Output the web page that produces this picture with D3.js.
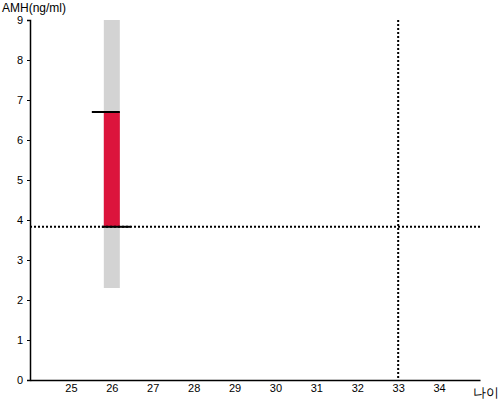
<!DOCTYPE html>
<html>
<head>
<meta charset="utf-8">
<script src="https://cdn.jsdelivr.net/npm/d3@7"></script>
<style>
  body { margin: 0; background: #fff; }
  text { font-family: "Liberation Sans", Arial, sans-serif; }
</style>
</head>
<body>
<div id="chart"></div>
<script>
/* Axis ticks */
const xTicks = [25, 26, 27, 28, 29, 30, 31, 32, 33, 34];
const yTicks = [0, 1, 2, 3, 4, 5, 6, 7, 8, 9];

/* Reference range (gray) and measured range (red) at age 26 */
const ages = [26];
const rangeLow = [2.3];
const rangeHigh = [9];
const valueLow = [3.83];
const valueHigh = [6.7];

/* Guide lines */
const guideAge = 33;
const guideAmh = 3.83;

const width = 500, height = 400;
const margins = { top: 20, right: 20, bottom: 20, left: 30 };

const svg = d3.select("#chart")
  .append("svg")
  .attr("width", width)
  .attr("height", height);

const x = d3.scaleLinear()
  .domain([24, 35])
  .range([margins.left, width - margins.right]);

const y = d3.scaleLinear()
  .domain([0, 9])
  .range([height - margins.bottom, margins.top]);

const barW = 16;

/* Gray range bar */
svg.append("g")
  .selectAll("rect")
  .data(ages)
  .join("rect")
    .attr("x", d => x(d) - barW / 2)
    .attr("y", (d, i) => y(rangeHigh[i]))
    .attr("width", barW)
    .attr("height", (d, i) => y(rangeLow[i]) - y(rangeHigh[i]))
    .attr("fill", "#d3d3d3");

/* Red value bar */
svg.append("g")
  .selectAll("rect")
  .data(ages)
  .join("rect")
    .attr("x", d => x(d) - barW / 2)
    .attr("y", (d, i) => y(valueHigh[i]))
    .attr("width", barW)
    .attr("height", (d, i) => y(valueLow[i]) - y(valueHigh[i]))
    .attr("fill", "#dc143c");

/* Dotted guides */
svg.append("line")
  .attr("x1", x(24)).attr("x2", x(35))
  .attr("y1", y(guideAmh)).attr("y2", y(guideAmh))
  .attr("stroke", "#000").attr("stroke-width", 2)
  .attr("stroke-dasharray", "2,2");

svg.append("line")
  .attr("x1", x(guideAge)).attr("x2", x(guideAge))
  .attr("y1", y(9)).attr("y2", y(0))
  .attr("stroke", "#000").attr("stroke-width", 2)
  .attr("stroke-dasharray", "2,2");

/* Cap lines: top extends left, bottom extends right */
ages.forEach((d, i) => {
  svg.append("line")
    .attr("x1", x(d) - barW / 2 - 12).attr("x2", x(d) + barW / 2)
    .attr("y1", y(valueHigh[i])).attr("y2", y(valueHigh[i]))
    .attr("stroke", "#000").attr("stroke-width", 2);
  svg.append("line")
    .attr("x1", x(d) - barW / 2 - 2).attr("x2", x(d) + barW / 2 + 11)
    .attr("y1", y(valueLow[i])).attr("y2", y(valueLow[i]))
    .attr("stroke", "#000").attr("stroke-width", 2);
});

/* Y axis */
const yAxis = svg.append("g")
  .attr("transform", `translate(${margins.left},0)`)
  .call(d3.axisLeft(y).tickValues(yTicks).tickSize(3).tickPadding(4));
yAxis.select(".domain").attr("stroke-width", 1.5);
yAxis.selectAll("text").attr("font-size", "11px").attr("fill", "#000")
  .attr("font-family", "Liberation Sans, Arial, sans-serif");

/* X axis */
const xAxis = svg.append("g")
  .attr("transform", `translate(0,${height - margins.bottom})`)
  .call(d3.axisBottom(x).tickValues(xTicks).tickSize(0).tickPadding(4)
    .tickSizeOuter(0));
xAxis.select(".domain").attr("stroke-width", 1.5);
xAxis.selectAll("text").attr("font-size", "11px").attr("fill", "#000")
  .attr("font-family", "Liberation Sans, Arial, sans-serif");

/* Axis titles */
svg.append("text")
  .attr("x", 2)
  .attr("y", 12)
  .attr("font-size", "12px")
  .text("AMH(ng/ml)");

svg.append("text")
  .attr("x", 473)
  .attr("y", 397)
  .attr("font-size", "13px")
  .attr("font-family", "Noto Sans CJK KR, sans-serif")
  .text("나이");
</script>
</body>
</html>
